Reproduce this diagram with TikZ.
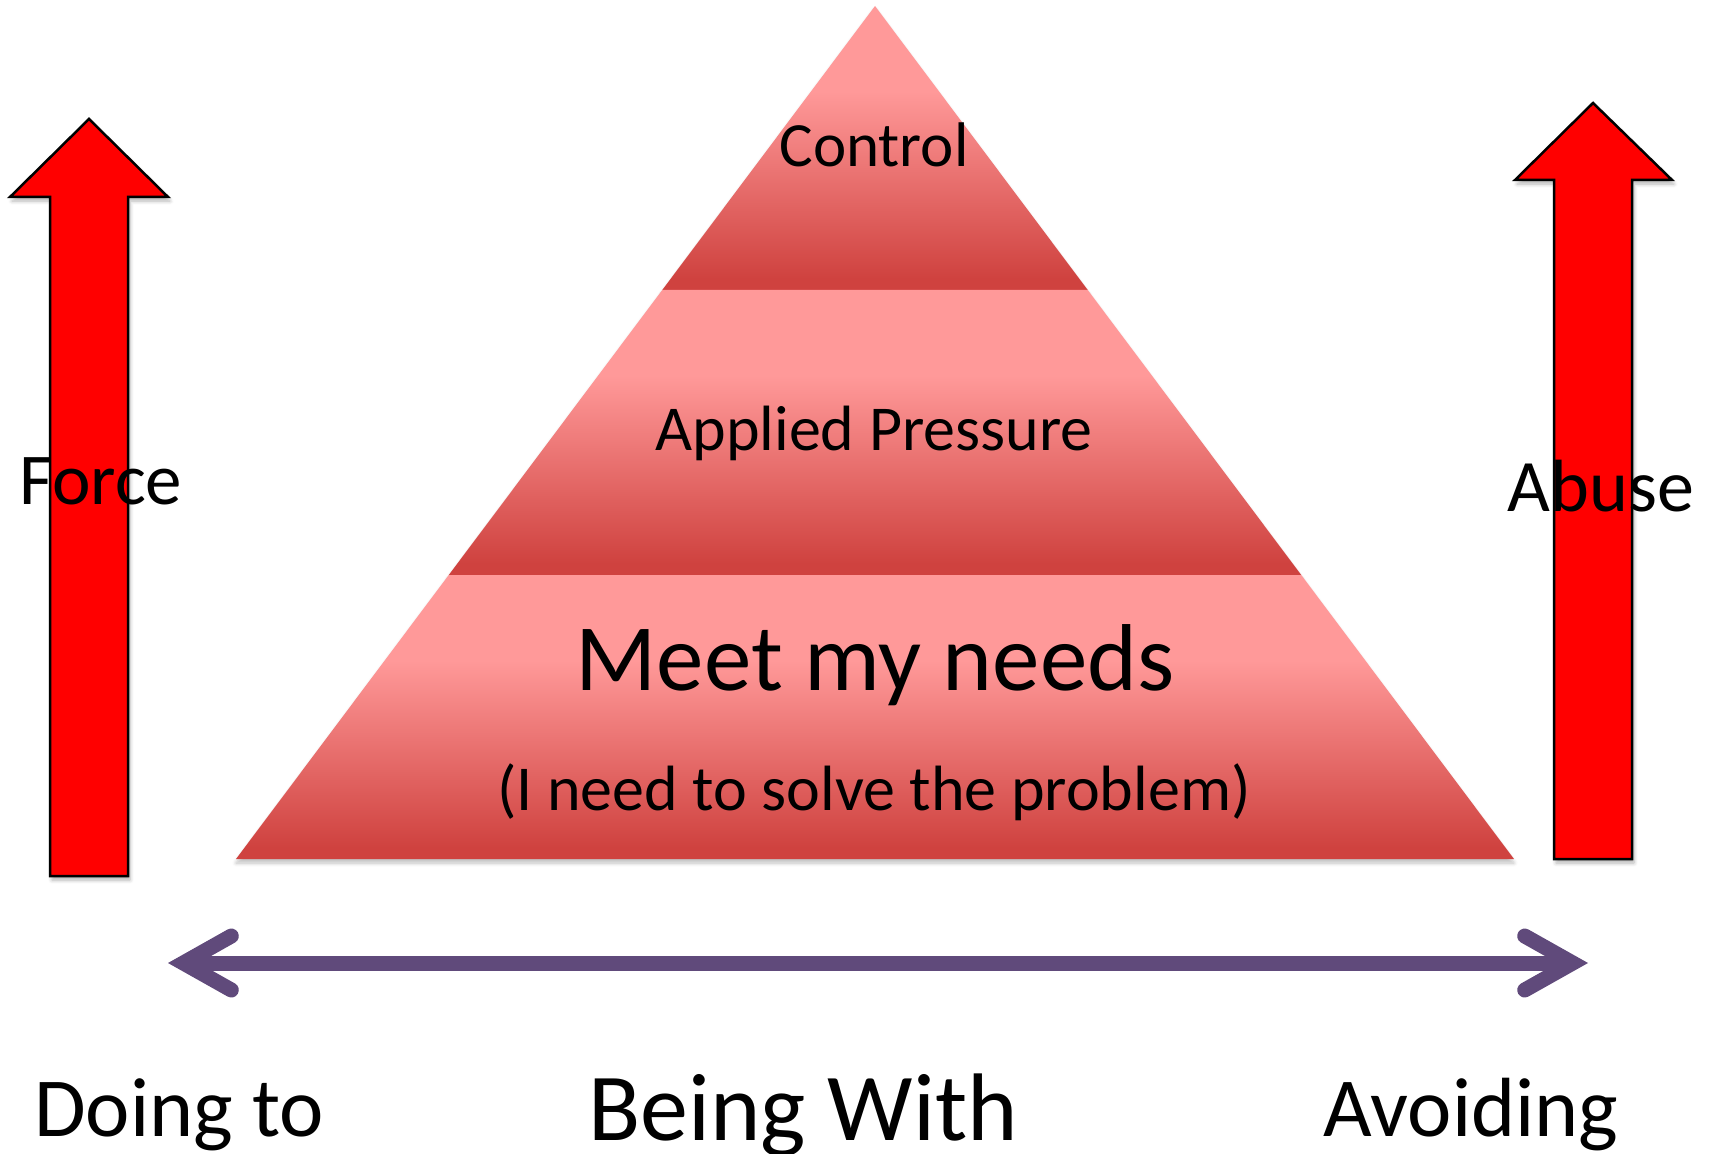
\documentclass[tikz,border=0pt]{standalone}
\usepackage{fontspec}
\setmainfont{Carlito}
\usetikzlibrary{arrows.meta,shadows.blur}
\definecolor{pinktop}{RGB}{255,153,153}
\definecolor{redbot}{RGB}{207,66,63}
\definecolor{purpleline}{RGB}{96,74,123}
% light at the top of each band, dark at the bottom
\pgfdeclareverticalshading{bandshade}{100bp}{color(0bp)=(redbot); color(27bp)=(redbot); color(60bp)=(pinktop); color(100bp)=(pinktop)}
\begin{document}
\begin{tikzpicture}[x=0.5pt,y=-0.5pt]
	% one unit is one pixel of the picture, y grows downwards
	\useasboundingbox (0,0) rectangle (1711,1154);
	% pyramid: apex, base half width, height
	\def\apexx{875}
	\def\apexy{6}
	\def\halfbase{639}
	\def\pheight{853}
	% style definition
	\tikzstyle{band} = [shading=bandshade, blur shadow={shadow xshift=0pt, shadow yshift=-2pt, shadow blur steps=6, shadow opacity=25}];
	\tikzstyle{blockarrow} = [draw=black, line width=1.25pt, line join=miter, fill=red, blur shadow={shadow xshift=1pt, shadow yshift=-2pt, shadow blur steps=6, shadow opacity=30}];
	\tikzstyle{label} = [inner sep=0pt, anchor=base];
	\tikzstyle{axisline} = [draw=purpleline, line width=7.5pt, {Straight Barb[length=24pt, width=27pt, line cap=round, line join=miter]}-{Straight Barb[length=24pt, width=27pt, line cap=round, line join=miter]}];
	% the three bands of the pyramid
	\foreach \ya/\yb in {6/290,290/575,575/859} {
		\pgfmathsetmacro{\wa}{\halfbase/\pheight*(\ya-\apexy)}
		\pgfmathsetmacro{\wb}{\halfbase/\pheight*(\yb-\apexy)}
		\path[band] (\apexx-\wa,\ya) -- (\apexx+\wa,\ya) -- (\apexx+\wb,\yb) -- (\apexx-\wb,\yb) -- cycle;
	}
	\node[label, font=\fontsize{31.5}{36}\selectfont] (control) at (874,167) {Control};
	\node[label, font=\fontsize{32}{38}\selectfont] (pressure) at (874,451) {Applied Pressure};
	\node[label, font=\fontsize{47.5}{56}\selectfont] (needs) at (875,690) {Meet my needs};
	\node[label, font=\fontsize{32}{38}\selectfont] (problem) at (874,810) {(I need to solve the problem)};
	% block arrows on both sides
	\draw[blockarrow] (89,119) -- (168,197) -- (128,197) -- (128,876) -- (50,876) -- (50,197) -- (10,197) -- cycle;
	\draw[blockarrow] (1593,103) -- (1672,180) -- (1632,180) -- (1632,859) -- (1554,859) -- (1554,180) -- (1515,180) -- cycle;
	\node[label, font=\fontsize{36.5}{42}\selectfont] (force) at (101,504) {Force};
	\node[label, font=\fontsize{37}{44}\selectfont] (abuse) at (1601,511) {Abuse};
	% double arrow and the three positions under it
	\coordinate (leftend) at (168,963);
	\coordinate (rightend) at (1588,963);
	\draw[axisline] (leftend) -- (rightend);
	\node[label, font=\fontsize{42}{48}\selectfont] (doing) at (179,1136) {Doing to};
	\node[label, font=\fontsize{48}{56}\selectfont] (being) at (803,1140) {Being With};
	\node[label, font=\fontsize{42}{48}\selectfont] (avoiding) at (1471,1136) {Avoiding};
\end{tikzpicture}
\end{document}
